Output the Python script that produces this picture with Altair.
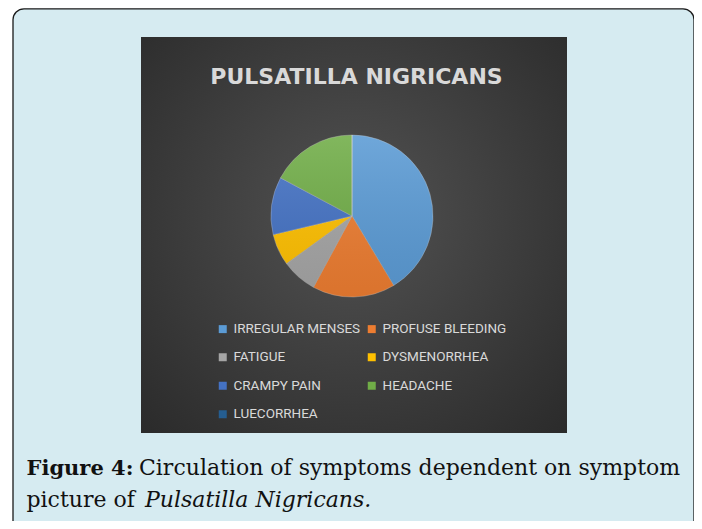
import altair as alt
import pandas as pd

# ---- data ----
categories = ["IRREGULAR MENSES", "PROFUSE BLEEDING", "FATIGUE", "DYSMENORRHEA",
              "CRAMPY PAIN", "HEADACHE", "LUECORRHEA"]
values = [41.4, 16.5, 7.1, 6.3, 11.5, 17.2, 0.0]
colors = ["#5B9BD5", "#ED7D31", "#A5A5A5", "#FFC000", "#4472C4", "#70AD47", "#255E91"]

title_text = "PULSATILLA  NIGRICANS"
caption_bold = "Figure 4:"
caption_line1 = "Circulation of symptoms dependent on symptom"
caption_line2 = "picture of"
caption_italic = "Pulsatilla Nigricans."

df = pd.DataFrame({"symptom": categories, "value": values, "idx": list(range(len(categories)))})
one = pd.DataFrame({"k": [0]})

W, H = 686, 513
CX, CY, R = 344, 208, 81

box = alt.Chart(one).mark_rect(
    fill="#d6ebf1", stroke="#1a1a1a", strokeWidth=1.3, cornerRadius=11
).encode(x=alt.value(5), x2=alt.value(686), y=alt.value(0.8), y2=alt.value(524))

panel = alt.Chart(one).mark_rect(
    fill={"gradient": "radial",
          "stops": [{"offset": 0, "color": "#525252"}, {"offset": 1, "color": "#272727"}],
          "x1": 0.5, "y1": 0.45, "r1": 0, "x2": 0.5, "y2": 0.45, "r2": 0.78}
).encode(x=alt.value(133), x2=alt.value(559), y=alt.value(29), y2=alt.value(425))

pie = alt.Chart(df).mark_arc(
    radius=R, stroke="#cfcfcf", strokeWidth=0.6, strokeOpacity=0.55
).encode(
    theta=alt.Theta("value:Q", stack=True),
    color=alt.Color(
        "symptom:N",
        scale=alt.Scale(domain=categories, range=colors),
        legend=alt.Legend(
            title=None, orient="none", legendX=208, legendY=314, columns=2,
            direction="horizontal",
            symbolType="square", symbolSize=64, symbolStrokeWidth=0,
            labelFont="Roboto", labelFontSize=13.5, labelColor="#d9d9d9",
            labelOffset=4, rowPadding=13.5, columnPadding=4, padding=0,
            labelLimit=300,
        ),
    ),
    order=alt.Order("idx:Q"),
    x=alt.value(CX), y=alt.value(CY),
)

shade = alt.Chart(one).mark_arc(
    radius=R, theta=0, theta2=6.2832,
    fill={"gradient": "linear",
          "stops": [{"offset": 0, "color": "rgba(255,255,255,0.12)"},
                    {"offset": 1, "color": "rgba(0,0,0,0.08)"}],
          "x1": 0, "y1": 0, "x2": 0, "y2": 1}
).encode(x=alt.value(CX), y=alt.value(CY))

title = alt.Chart(one).mark_text(
    text=title_text, font="DejaVu Sans", fontWeight="bold", fontSize=22,
    color="#d9d9d9", align="center", baseline="alphabetic"
).encode(x=alt.value(348.5), y=alt.value(75.5))

cap_font = "DejaVu Serif"
cap1b = alt.Chart(one).mark_text(
    text=caption_bold, font=cap_font, fontWeight="bold", fontSize=21,
    color="#111111", align="left", baseline="alphabetic"
).encode(x=alt.value(18.5), y=alt.value(467))
cap1 = alt.Chart(one).mark_text(
    text=caption_line1, font=cap_font, fontSize=22,
    color="#111111", align="left", baseline="alphabetic"
).encode(x=alt.value(131), y=alt.value(467))
cap2 = alt.Chart(one).mark_text(
    text=caption_line2, font=cap_font, fontSize=22,
    color="#111111", align="left", baseline="alphabetic"
).encode(x=alt.value(18.5), y=alt.value(499))
cap2i = alt.Chart(one).mark_text(
    text=caption_italic, font=cap_font, fontStyle="italic", fontSize=22,
    color="#111111", align="left", baseline="alphabetic"
).encode(x=alt.value(137), y=alt.value(499))

chart = alt.layer(box, panel, pie, shade, title, cap1b, cap1, cap2, cap2i).properties(
    width=W, height=H, padding=0, autosize="none", background="white"
).configure_view(strokeWidth=0)

chart.save("out.html", embed_options={"renderer": "svg", "actions": False})
